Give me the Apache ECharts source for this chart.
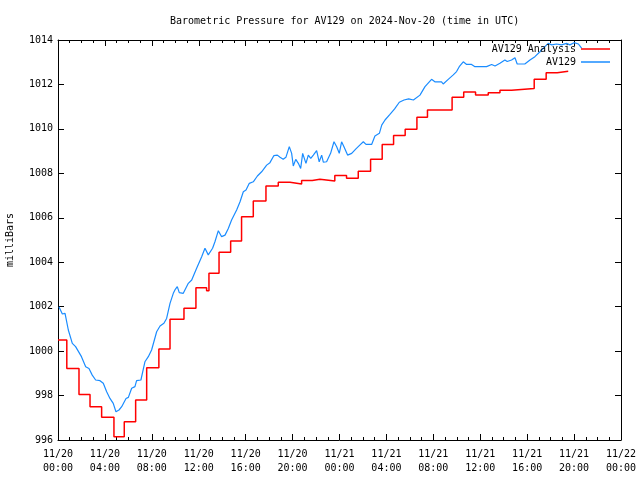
<!DOCTYPE html>
<html>
<head>
<meta charset="utf-8">
<script src="https://cdn.jsdelivr.net/npm/echarts@6/dist/echarts.min.js"></script>
<style>html,body{margin:0;padding:0;background:#fff}#c{width:640px;height:480px}</style>
</head>
<body>
<div id="c"></div>
<script>
// hours since 2024-11-20 00:00 UTC
const blueTimes = [0.08,0.37,0.6,0.88,1.22,1.5,2.0,2.36,2.64,2.92,3.21,3.58,3.86,4.15,4.43,4.71,4.94,5.2,5.43,5.8,6.0,6.28,6.56,6.7,7.07,7.41,7.7,7.98,8.41,8.7,9.03,9.26,9.55,9.83,10.0,10.17,10.34,10.68,11.11,11.4,11.82,12.25,12.53,12.81,13.18,13.38,13.67,13.95,14.24,14.52,14.8,15.23,15.52,15.8,16.03,16.31,16.65,17.0,17.36,17.79,18.07,18.41,18.7,18.93,19.2,19.43,19.72,19.92,20.06,20.27,20.49,20.69,20.86,21.14,21.34,21.55,21.77,22.05,22.27,22.48,22.62,22.9,23.24,23.53,23.76,23.98,24.18,24.38,24.69,25.04,25.4,25.75,26.03,26.26,26.74,27.02,27.4,27.6,27.88,28.3,28.7,29.1,29.5,29.9,30.3,30.86,31.29,31.85,32.13,32.7,32.84,33.27,33.7,33.98,34.21,34.55,34.84,35.26,35.55,36.54,36.97,37.26,37.68,38.1,38.3,38.67,38.96,39.15,39.8,40.24,40.66,41.09,41.51,41.8,42.1,42.5,42.93,43.36,43.64,44.0,44.37,44.64];
const blueValues = [1002.0,1001.67,1001.7,1000.95,1000.35,1000.2,999.75,999.3,999.22,998.92,998.7,998.67,998.55,998.17,997.87,997.65,997.27,997.35,997.5,997.87,997.92,998.33,998.4,998.67,998.7,999.52,999.75,1000.05,1000.87,1001.13,1001.25,1001.47,1002.15,1002.6,1002.78,1002.9,1002.63,1002.6,1003.05,1003.2,1003.73,1004.25,1004.63,1004.33,1004.63,1004.92,1005.42,1005.15,1005.22,1005.52,1005.9,1006.35,1006.72,1007.17,1007.25,1007.55,1007.62,1007.88,1008.07,1008.37,1008.48,1008.8,1008.82,1008.72,1008.63,1008.72,1009.2,1008.9,1008.33,1008.63,1008.45,1008.22,1008.9,1008.45,1008.82,1008.67,1008.82,1009.02,1008.52,1008.82,1008.5,1008.52,1008.9,1009.42,1009.2,1008.9,1009.42,1009.2,1008.82,1008.9,1009.1,1009.28,1009.42,1009.3,1009.3,1009.68,1009.8,1010.17,1010.4,1010.65,1010.9,1011.2,1011.3,1011.35,1011.3,1011.52,1011.9,1012.23,1012.12,1012.12,1012.02,1012.23,1012.43,1012.58,1012.8,1013.02,1012.9,1012.9,1012.8,1012.8,1012.9,1012.83,1012.95,1013.1,1013.03,1013.1,1013.2,1012.92,1012.92,1013.1,1013.25,1013.47,1013.7,1013.85,1013.78,1013.82,1013.78,1013.85,1013.78,1013.88,1013.82,1013.63];
const redTimes = [0.0,0.75,1.79,2.73,3.72,4.77,5.65,6.62,7.56,8.6,9.55,10.74,11.76,12.67,12.87,13.73,14.72,15.65,16.65,17.73,18.78,19.78,20.77,21.68,22.33,23.6,24.6,25.6,26.65,27.64,28.61,29.6,30.6,31.5,33.6,34.59,35.6,36.68,37.68,38.67,40.6,41.62,42.56,43.5];
const redValues = [1000.5,999.22,998.05,997.5,997.02,996.15,996.82,997.8,999.25,1000.1,1001.43,1001.93,1002.85,1002.72,1003.5,1004.45,1004.95,1006.05,1006.75,1007.43,1007.6,1007.52,1007.68,1007.73,1007.65,1007.9,1007.78,1008.09,1008.63,1009.3,1009.7,1009.98,1010.52,1010.85,1011.42,1011.66,1011.52,1011.63,1011.74,1011.82,1012.23,1012.53,1012.59,1012.59];
const xTickLabels = ['11/20\n00:00','11/20\n04:00','11/20\n08:00','11/20\n12:00','11/20\n16:00','11/20\n20:00','11/21\n00:00','11/21\n04:00','11/21\n08:00','11/21\n12:00','11/21\n16:00','11/21\n20:00','11/22\n00:00'];
const yTicks = [996,998,1000,1002,1004,1006,1008,1010,1012,1014];

const FONT = 'DejaVu Sans Mono';
const chart = echarts.init(document.getElementById('c'), null, {renderer:'canvas'});
const axisBase = {
  axisLine:{show:true, onZero:false, lineStyle:{color:'#000', width:1}},
  splitLine:{show:false}
};
const xCommon = Object.assign({}, axisBase, {
  type:'value', min:0, max:48, interval:4,
  axisTick:{show:true, inside:true, length:6, lineStyle:{color:'#000'}},
  minorTick:{show:true, splitNumber:4, length:3, lineStyle:{color:'#000'}},
  minorSplitLine:{show:false}
});
const yCommon = Object.assign({}, axisBase, {
  type:'value', min:yTicks[0], max:yTicks[yTicks.length-1], interval:2,
  axisTick:{show:true, inside:true, length:6, lineStyle:{color:'#000'}}
});
chart.setOption({
  animation:false,
  backgroundColor:'#fff',
  title:{text:'Barometric Pressure for AV129 on 2024-Nov-20 (time in UTC)', left:165, top:11,
    textStyle:{fontFamily:FONT, fontSize:10, fontWeight:'normal', color:'#000'}},
  legend:{orient:'vertical', right:30, top:43, align:'right', itemGap:1, itemWidth:29, itemHeight:1.5,
    padding:0, icon:'rect', textStyle:{fontFamily:FONT, fontSize:10, color:'#000', lineHeight:12},
    data:[{name:'AV129 Analysis', itemStyle:{color:'#ff0000'}},{name:'AV129', itemStyle:{color:'#1a8cff'}}]},
  grid:{left:58, right:19, top:40, bottom:40, containLabel:false, outerBoundsMode:'none'},
  xAxis:[
    Object.assign({}, xCommon, {position:'bottom',
      axisLabel:{show:true, margin:7, fontFamily:FONT, fontSize:10, color:'#000', lineHeight:14,
        formatter:v=>xTickLabels[Math.round(v/4)]}}),
    Object.assign({}, xCommon, {position:'top', axisLabel:{show:false}})
  ],
  yAxis:[
    Object.assign({}, yCommon, {position:'left', name:'milliBars', nameLocation:'middle', nameRotate:90, nameGap:43,
      nameTextStyle:{fontFamily:FONT, fontSize:10, color:'#000'},
      axisLabel:{show:true, margin:5, fontFamily:FONT, fontSize:10, color:'#000', formatter:v=>String(v)}}),
    Object.assign({}, yCommon, {position:'right', axisLabel:{show:false}})
  ],
  series:[
    {name:'AV129 Analysis', type:'line', step:'end', showSymbol:false, symbol:'none',
      lineStyle:{color:'#ff0000', width:1.5}, itemStyle:{color:'#ff0000'},
      data:redTimes.map((t,i)=>[t, redValues[i]])},
    {name:'AV129', type:'line', showSymbol:false, symbol:'none',
      lineStyle:{color:'#1a8cff', width:1.2}, itemStyle:{color:'#1a8cff'},
      data:blueTimes.map((t,i)=>[t, blueValues[i]])}
  ]
});
</script>
</body>
</html>
